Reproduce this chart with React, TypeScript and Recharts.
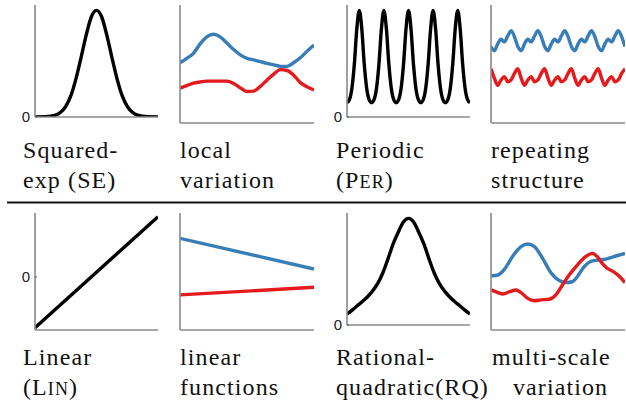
import { LineChart, Line, XAxis, YAxis } from "recharts";

const BLUE = "#377eb8";
const RED = "#e41a1c";
const AXIS = "#8a8a8a";

// squared-exp kernel
const seX = [-3, -2.5, -2, -1.75, -1.5, -1.25, -1, -0.75, -0.5, -0.25, 0, 0.25, 0.5, 0.75, 1, 1.25, 1.5, 1.75, 2, 2.5, 3];
const seK = [0, 0.002, 0.017, 0.044, 0.1, 0.2, 0.36, 0.56, 0.77, 0.94, 1, 0.94, 0.77, 0.56, 0.36, 0.2, 0.1, 0.044, 0.017, 0.002, 0];

// local variation samples
const lvX = [0, 0.5, 1, 1.5, 2, 2.5, 3, 3.5, 4, 4.5, 5, 5.5, 6, 6.5, 7, 7.5, 8, 8.5, 9, 9.5, 10];
const lvBlue = [0.04, 0.19, 0.36, 0.68, 0.92, 1.01, 0.92, 0.71, 0.49, 0.31, 0.19, 0.14, 0.08, 0.02, -0.03, -0.08, -0.08, 0.05, 0.22, 0.44, 0.64];
const lvRed = [-0.82, -0.73, -0.65, -0.61, -0.58, -0.58, -0.58, -0.58, -0.66, -0.81, -0.93, -0.92, -0.76, -0.54, -0.34, -0.19, -0.22, -0.39, -0.64, -0.78, -0.88];

// periodic kernel
const perX = [
  -2.5, -2.4, -2.3, -2.2, -2.1, -2, -1.9, -1.8, -1.7, -1.6,
  -1.5, -1.4, -1.3, -1.2, -1.1, -1, -0.9, -0.8, -0.7, -0.6,
  -0.5, -0.4, -0.3, -0.2, -0.1, 0, 0.1, 0.2, 0.3, 0.4,
  0.5, 0.6, 0.7, 0.8, 0.9, 1, 1.1, 1.2, 1.3, 1.4,
  1.5, 1.6, 1.7, 1.8, 1.9, 2, 2.1, 2.2, 2.3, 2.4,
  2.5,
];
const perK = [
  0.135, 0.164, 0.27, 0.5, 0.83, 1, 0.83, 0.5, 0.27, 0.164,
  0.135, 0.164, 0.27, 0.5, 0.83, 1, 0.83, 0.5, 0.27, 0.164,
  0.135, 0.164, 0.27, 0.5, 0.83, 1, 0.83, 0.5, 0.27, 0.164,
  0.135, 0.164, 0.27, 0.5, 0.83, 1, 0.83, 0.5, 0.27, 0.164,
  0.135, 0.164, 0.27, 0.5, 0.83, 1, 0.83, 0.5, 0.27, 0.164,
  0.135,
];

// repeating structure samples
const repX = [
  0, 1, 2, 3, 4, 5, 6, 7, 8, 9, 10, 11, 12, 13, 14, 15, 16, 17, 18, 19, 20,
  21, 22, 23, 24, 25, 26, 27, 28, 29, 30, 31, 32, 33, 34, 35, 36, 37, 38, 39, 40,
];
const repBlue = [
  0.59,
  0.45, 0.68, 0.84, 0.75, 0.95, 1.13, 0.93, 0.59,
  0.45, 0.68, 0.84, 0.75, 0.95, 1.13, 0.93, 0.59,
  0.45, 0.68, 0.84, 0.75, 0.95, 1.13, 0.93, 0.59,
  0.45, 0.68, 0.84, 0.75, 0.95, 1.13, 0.93, 0.59,
  0.45, 0.68, 0.84, 0.75, 0.95, 1.13, 0.93, 0.59,
];
const repRed = [
  -0.16, -0.48, -0.72, -0.54, -0.43, -0.6, -0.54, -0.32,
  -0.16, -0.48, -0.72, -0.54, -0.43, -0.6, -0.54, -0.32,
  -0.16, -0.48, -0.72, -0.54, -0.43, -0.6, -0.54, -0.32,
  -0.16, -0.48, -0.72, -0.54, -0.43, -0.6, -0.54, -0.32,
  -0.16, -0.48, -0.72, -0.54, -0.43, -0.6, -0.54, -0.32,
  -0.16,
];

// linear kernel
const linX = [-3, 3];
const linK = [-5.07, 6.03];

// linear function samples
const lfX = [0, 10];
const lfBlue = [1.135, 0.085];
const lfRed = [-0.8, -0.54];

// rational quadratic kernel
const rqX = [-3, -2.75, -2.5, -2.25, -2, -1.75, -1.5, -1.25, -1, -0.75, -0.5, -0.25, 0, 0.25, 0.5, 0.75, 1, 1.25, 1.5, 1.75, 2, 2.25, 2.5, 2.75, 3];
const rqK = [0.103, 0.14, 0.18, 0.22, 0.265, 0.32, 0.39, 0.49, 0.62, 0.76, 0.87, 0.965, 1, 0.965, 0.87, 0.76, 0.62, 0.49, 0.39, 0.32, 0.265, 0.22, 0.18, 0.14, 0.103];

// multi-scale variation samples
const msBlueX = [0, 0.52, 1.01, 1.63, 2.24, 2.74, 3.24, 3.85, 4.47, 5.09, 5.58, 6.07, 6.44, 6.94, 7.43, 7.93, 8.54, 9.16, 10];
const msBlue = [-0.15, -0.12, 0.08, 0.53, 0.85, 0.94, 0.85, 0.45, -0.04, -0.31, -0.38, -0.35, -0.18, 0.16, 0.34, 0.39, 0.42, 0.51, 0.62];
const msRedX = [0, 0.52, 0.89, 1.39, 1.87, 2.24, 2.74, 3.24, 3.73, 4.35, 4.84, 5.33, 5.83, 6.44, 7.06, 7.56, 7.93, 8.3, 8.67, 9.16, 9.61, 10];
const msRed = [-0.63, -0.72, -0.77, -0.69, -0.63, -0.72, -0.92, -1.0, -0.97, -0.95, -0.8, -0.46, -0.12, 0.22, 0.51, 0.62, 0.51, 0.28, 0.11, -0.01, -0.18, -0.38];

type Series = { xs: number[]; ys: number[]; color: string; curve?: "monotone" | "linear" };

type PanelProps = {
  left: number;
  top: number;
  w: number;
  h: number;
  xDomain: [number, number];
  yDomain: [number, number];
  series: Series[];
  zero?: boolean;
};

const LM = 24;
const RM = 1;
const TM = 3;
const BM = 10;

// "0" tick label, drawn left of the axis
function ZeroTick(props: any) {
  const { x, y, payload } = props;
  return (
    <text x={x} y={y} dy={5} textAnchor="end" style={{ fontFamily: "Liberation Sans", fontSize: 15 }} fill="#222">
      {payload.value}
    </text>
  );
}

function Panel({ left, top, w, h, xDomain, yDomain, series, zero }: PanelProps) {
  const mid = (xDomain[0] + xDomain[1]) / 2;
  return (
    <div style={{ position: "absolute", left: left - LM, top: top - TM }}>
      <LineChart width={LM + w + RM} height={TM + h + BM} margin={{ top: TM, right: RM, left: 0, bottom: 0 }}>
        <XAxis
          type="number"
          dataKey="x"
          domain={xDomain}
          allowDataOverflow
          height={BM}
          ticks={[mid]}
          tick={false}
          tickSize={-3}
          axisLine={{ stroke: AXIS, strokeWidth: 1.6 }}
          tickLine={{ stroke: "#555", strokeWidth: 1 }}
        />
        <YAxis
          type="number"
          domain={yDomain}
          allowDataOverflow
          width={LM}
          ticks={zero ? [0] : undefined}
          tick={zero ? <ZeroTick /> : false}
          tickLine={zero ? { stroke: "#555", strokeWidth: 1 } : false}
          tickSize={-2}
          tickMargin={7}
          axisLine={{ stroke: AXIS, strokeWidth: 1.6 }}
        />
        {series.map((s, i) => (
          <Line
            key={i}
            data={s.xs.map((x, j) => ({ x, y: s.ys[j] }))}
            dataKey="y"
            type={s.curve ?? "monotone"}
            stroke={s.color}
            strokeWidth={3.4}
            dot={false}
            activeDot={false}
            isAnimationActive={false}
          />
        ))}
      </LineChart>
    </div>
  );
}

function Label({ x, y, children }: { x: number; y: number; children: any }) {
  return (
    <text x={x} y={y} fill="#111" style={{ fontFamily: "Liberation Serif", fontSize: 24, letterSpacing: 1.1 }}>
      {children}
    </text>
  );
}

const sc = 18;

export default function App() {
  return (
    <div style={{ position: "absolute", left: 0, top: 0, width: 626, height: 404, background: "#fff", overflow: "hidden" }}>
      <Panel left={35} top={5} w={123} h={112} xDomain={[-3, 3]} yDomain={[0, 1.05]} zero
        series={[{ xs: seX, ys: seK, color: "#000" }]} />
      <Panel left={180} top={5} w={134} h={118} xDomain={[0, 10]} yDomain={[-2, 2]}
        series={[{ xs: lvX, ys: lvBlue, color: BLUE }, { xs: lvX, ys: lvRed, color: RED }]} />
      <Panel left={347} top={5} w={123} h={112} xDomain={[-2.5, 2.5]} yDomain={[0, 1.05]} zero
        series={[{ xs: perX, ys: perK, color: "#000" }]} />
      <Panel left={491} top={5} w={134} h={118} xDomain={[0, 40]} yDomain={[-2, 2]}
        series={[{ xs: repX, ys: repBlue, color: BLUE }, { xs: repX, ys: repRed, color: RED }]} />

      <Panel left={35} top={213} w={123} h={117} xDomain={[-3, 3]} yDomain={[-5.3, 6.4]} zero
        series={[{ xs: linX, ys: linK, color: "#000", curve: "linear" }]} />
      <Panel left={180} top={213} w={134} h={117} xDomain={[0, 10]} yDomain={[-2, 2]}
        series={[
          { xs: lfX, ys: lfBlue, color: BLUE, curve: "linear" },
          { xs: lfX, ys: lfRed, color: RED, curve: "linear" },
        ]} />
      <Panel left={347} top={213} w={123} h={112} xDomain={[-3, 3]} yDomain={[0, 1.05]} zero
        series={[{ xs: rqX, ys: rqK, color: "#000" }]} />
      <Panel left={491} top={213} w={134} h={117} xDomain={[0, 10]} yDomain={[-2, 2]}
        series={[{ xs: msBlueX, ys: msBlue, color: BLUE }, { xs: msRedX, ys: msRed, color: RED }]} />

      <svg width={626} height={404} style={{ position: "absolute", left: 0, top: 0, pointerEvents: "none" }}>
        <line x1={7} y1={202.5} x2={626} y2={202.5} stroke="#111" strokeWidth={1.8} />
        <Label x={23} y={158}>Squared-</Label>
        <Label x={23} y={188}>exp (SE)</Label>
        <Label x={180} y={158}>local</Label>
        <Label x={180} y={188}>variation</Label>
        <Label x={336} y={158}>Periodic</Label>
        <Label x={336} y={188}>(P<tspan style={{ fontSize: sc }}>ER</tspan>)</Label>
        <Label x={491} y={158}>repeating</Label>
        <Label x={491} y={188}>structure</Label>

        <Label x={23} y={365}>Linear</Label>
        <Label x={23} y={395}>(L<tspan style={{ fontSize: sc }}>IN</tspan>)</Label>
        <Label x={180} y={365}>linear</Label>
        <Label x={180} y={395}>functions</Label>
        <Label x={336} y={365}>Rational-</Label>
        <Label x={336} y={395}>quadratic(RQ)</Label>
        <Label x={492} y={365}>multi-scale</Label>
        <Label x={513} y={395}>variation</Label>
      </svg>
    </div>
  );
}
